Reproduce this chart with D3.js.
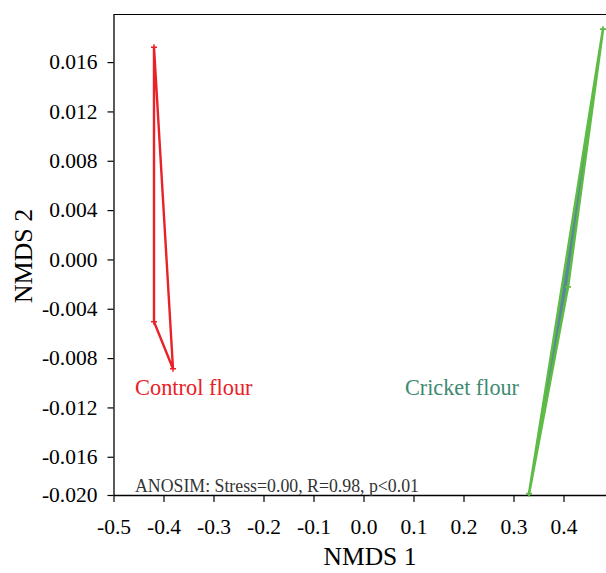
<!DOCTYPE html>
<html><head><meta charset="utf-8">
<script src="https://cdn.jsdelivr.net/npm/d3@7"></script>
<style>body{margin:0;background:#fff}svg{display:block}</style>
</head><body>
<svg id="c" width="606" height="573"></svg>
<script>
const groups = ["Control flour", "Cricket flour"];
const controlX = [-0.419, -0.419, -0.381];
const controlY = [0.0172, -0.00505, -0.00886];
const cricketX = [0.479, 0.409, 0.331];
const cricketY = [0.01867, -0.00222, -0.0190];
const xTicks = [-0.5, -0.4, -0.3, -0.2, -0.1, 0.0, 0.1, 0.2, 0.3, 0.4];
const yMin = -0.0191, yMax = 0.0199;
const yTicks = [0.016, 0.012, 0.008, 0.004, 0.000, -0.004, -0.008, -0.012, -0.016, yMin];
const yTickLabels = ["0.016","0.012","0.008","0.004","0.000","-0.004","-0.008","-0.012","-0.016","-0.020"];
const annotation = "ANOSIM: Stress=0.00, R=0.98, p<0.01";

const svg = d3.select("#c");
const font = "'Liberation Serif', 'Times New Roman', serif";
const x = d3.scaleLinear().domain([-0.5, 0.5]).range([113.5, 613.5]);
const y = d3.scaleLinear().domain([yMin, yMax]).range([495, 14]);

// frame
svg.append("line").attr("x1", 113.5).attr("x2", 620).attr("y1", 14.5).attr("y2", 14.5)
  .attr("stroke", "#000").attr("stroke-width", 1.2);

const xa = svg.append("g").attr("transform", "translate(0,495)")
  .call(d3.axisBottom(x).tickValues(xTicks).tickSize(7).tickSizeOuter(0));
xa.select(".domain").attr("stroke-width", 1.3);
xa.selectAll(".tick line").attr("stroke-width", 1.2);
xa.selectAll("text").attr("font-family", font).attr("font-size", 21.5).attr("fill", "#000")
  .attr("y", 39).attr("dy", null)
  .text(d => d3.format(".1f")(d).replace("\u2212", "-"));

const ya = svg.append("g").attr("transform", "translate(113.5,0)")
  .call(d3.axisLeft(y).tickValues(yTicks).tickFormat((d, i) => yTickLabels[i]).tickSize(6).tickSizeOuter(0));
ya.select(".domain").attr("stroke-width", 1.3);
ya.selectAll(".tick line").attr("stroke-width", 1.2);
ya.selectAll("text").attr("font-family", font).attr("font-size", 21.5).attr("fill", "#000").attr("x", -16);

// axis titles
svg.append("text").attr("x", 370).attr("y", 565).attr("text-anchor", "middle")
  .attr("font-family", font).attr("font-size", 25.5).text("NMDS 1");
svg.append("text").attr("transform", "translate(32,256) rotate(-90)").attr("text-anchor", "middle")
  .attr("font-family", font).attr("font-size", 26).text("NMDS 2");

const line = d3.line().x(d => x(d[0])).y(d => y(d[1])).curve(d3.curveLinearClosed);

// control hull
const cPts = controlX.map((v, i) => [v, controlY[i]]);
svg.append("path").attr("d", line(cPts)).attr("fill", "none").attr("stroke", "#ea2128").attr("stroke-width", 2.4);
svg.selectAll(".cm").data(cPts).enter().append("path")
  .attr("d", d => `M${x(d[0])-3},${y(d[1])}h6M${x(d[0])},${y(d[1])-3}v6`)
  .attr("stroke", "#ea2128").attr("stroke-width", 1.5);

// cricket hull
const kPts = cricketX.map((v, i) => [v, cricketY[i]]);
svg.append("path").attr("d", line(kPts)).attr("fill", "#5a86a0").attr("stroke", "#5dbb46").attr("stroke-width", 2.6).attr("stroke-linejoin", "round");
svg.selectAll(".km").data(kPts).enter().append("path")
  .attr("d", d => `M${x(d[0])-3},${y(d[1])}h6M${x(d[0])},${y(d[1])-3}v6`)
  .attr("stroke", "#5dbb46").attr("stroke-width", 1.8);

// group labels
svg.append("text").attr("x", 135).attr("y", 395).attr("font-family", font).attr("font-size", 22.4)
  .attr("fill", "#ea2128").text(groups[0]);
svg.append("text").attr("x", 405).attr("y", 395).attr("font-family", font).attr("font-size", 22.2)
  .attr("fill", "#3e8a72").text(groups[1]);

svg.append("text").attr("x", 135).attr("y", 492).attr("font-family", font).attr("font-size", 17.8)
  .attr("fill", "#333").text(annotation);
</script>
</body></html>
